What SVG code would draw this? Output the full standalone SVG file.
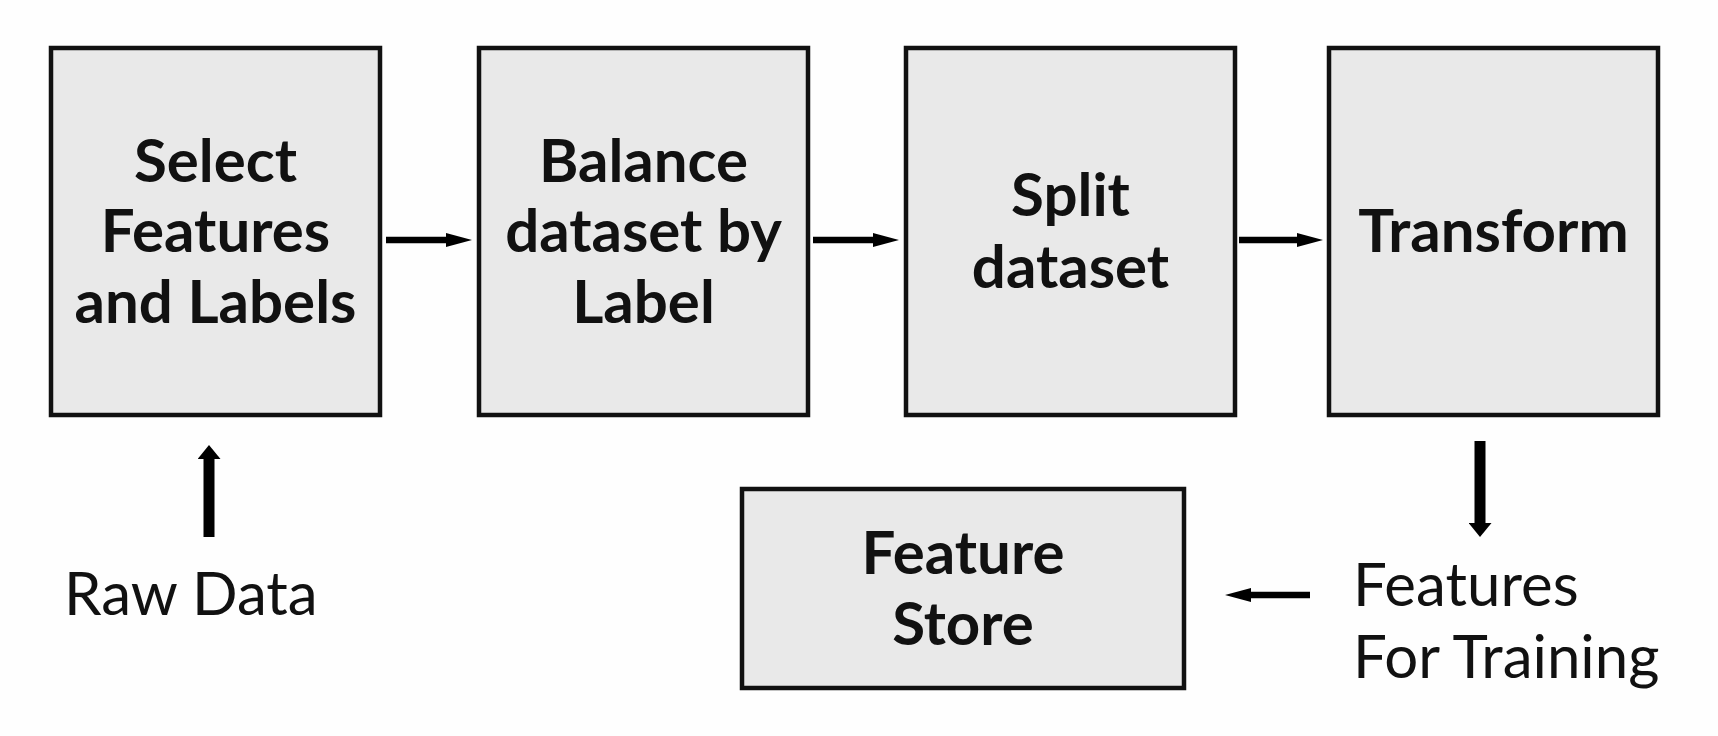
<svg xmlns="http://www.w3.org/2000/svg" width="1718" height="736" viewBox="0 0 1718 736">
<style>
.box{fill:#e9e9e9;stroke:#111;stroke-width:4.5}
.bt{font-family:Lato,"Liberation Sans",sans-serif;font-weight:700;font-size:60px;fill:#111;text-anchor:middle}
.rt{font-family:Lato,"Liberation Sans",sans-serif;font-weight:400;font-size:60px;fill:#111}
.h{stroke:#000;stroke-width:6.5;fill:none}
.v{stroke:#000;stroke-width:11;fill:none}
</style>
<defs>
<marker id="ah" markerUnits="userSpaceOnUse" viewBox="0 0 26 14" refX="3" refY="7" markerWidth="26" markerHeight="14" orient="auto"><path d="M0,0 L26,7 L0,14 z" fill="#000"/></marker>
<marker id="av" markerUnits="userSpaceOnUse" viewBox="0 0 14 23" refX="3" refY="11.5" markerWidth="14" markerHeight="23" orient="auto"><path d="M0,0 L14,11.5 L0,23 z" fill="#000"/></marker>
</defs>
<rect width="1718" height="736" fill="#fefefe"/>
<g id="select">
<rect class="box" x="51" y="48" width="329" height="367"/>
<text class="bt" x="215.5" y="182">Select</text>
<text class="bt" x="215.5" y="252">Features</text>
<text class="bt" x="215.5" y="323">and Labels</text>
</g>
<g id="balance">
<rect class="box" x="479" y="48" width="329" height="367"/>
<text class="bt" x="643.5" y="182">Balance</text>
<text class="bt" x="643.5" y="252">dataset by</text>
<text class="bt" x="643.5" y="323">Label</text>
</g>
<g id="split">
<rect class="box" x="906" y="48" width="329" height="367"/>
<text class="bt" x="1070.5" y="216">Split</text>
<text class="bt" x="1070.5" y="288">dataset</text>
</g>
<g id="transform">
<rect class="box" x="1329" y="48" width="329" height="367"/>
<text class="bt" x="1493.5" y="252">Transform</text>
</g>
<g id="featurestore">
<rect class="box" x="742" y="489" width="442" height="199"/>
<text class="bt" x="963" y="574">Feature</text>
<text class="bt" x="963" y="645">Store</text>
</g>
<g id="rawdata">
<text class="rt" x="64" y="615">Raw Data</text>
</g>
<g id="featuresfortraining">
<text class="rt" x="1353" y="606">Features</text>
<text class="rt" x="1353" y="678">For Training</text>
</g>
<g id="connectors">
<path class="h" d="M386,240 H449" marker-end="url(#ah)"/>
<path class="h" d="M813,240 H876" marker-end="url(#ah)"/>
<path class="h" d="M1239,240 H1300" marker-end="url(#ah)"/>
<path class="v" d="M209,537 V456" marker-end="url(#av)"/>
<path class="v" d="M1480,441 V526" marker-end="url(#av)"/>
<path class="h" d="M1310,595 H1248" marker-end="url(#ah)"/>
</g>
</svg>
